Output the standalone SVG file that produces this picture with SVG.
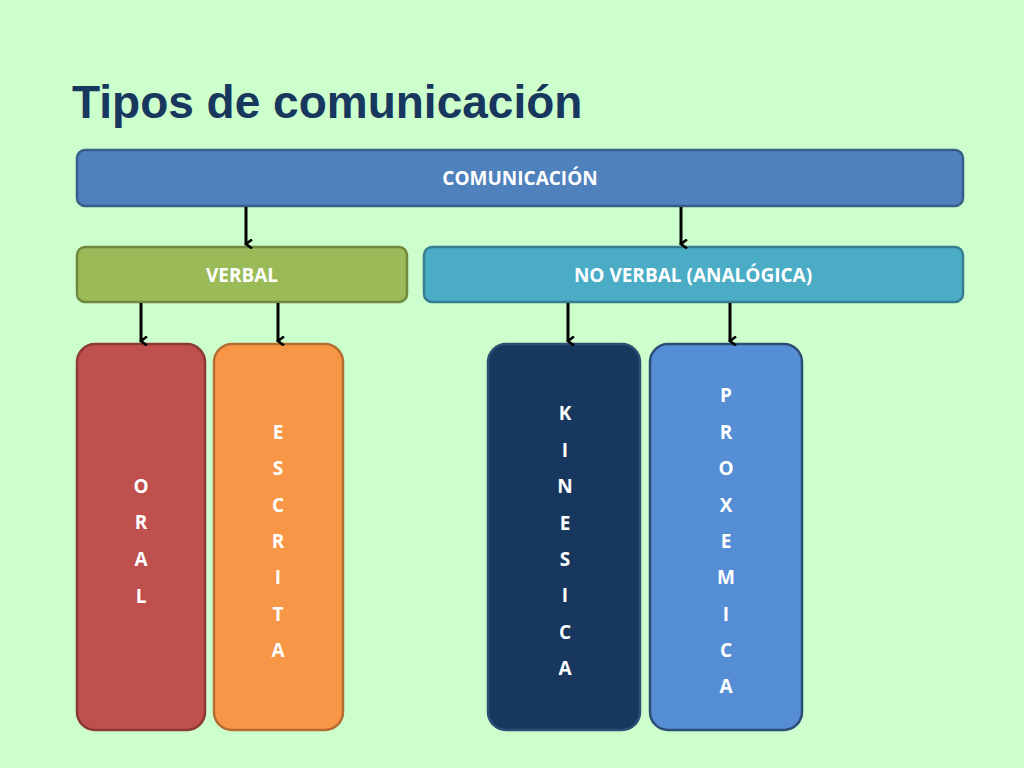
<svg xmlns="http://www.w3.org/2000/svg" width="1024" height="768" viewBox="0 0 1024 768">
<defs>
<marker id="ah" markerWidth="10" markerHeight="10" refX="5" refY="8" orient="auto" markerUnits="userSpaceOnUse" viewBox="0 0 10 10"><path d="M0.5,2 L5,8 L9.5,2" fill="none" stroke="#000" stroke-width="2.6"/></marker>
</defs>
<style>
.t{font-family:"Open Sans","Liberation Sans",sans-serif;font-weight:bold;font-size:19px;fill:#fff;text-anchor:middle}
.b{stroke-width:2.5}
.c line{stroke:#000;stroke-width:3;marker-end:url(#ah)}
</style>
<rect width="1024" height="768" fill="#CCFFCC"/>
<text x="72" y="118" font-family="Liberation Sans,Arial,sans-serif" font-weight="bold" font-size="46" fill="#17375E">Tipos de comunicación</text>
<g id="comunicacion"><rect class="b" x="77" y="150" width="886" height="56" rx="8" fill="#4F81BD" stroke="#385D8A"/><text class="t" x="520" y="185">COMUNICACIÓN</text></g>
<g id="verbal"><rect class="b" x="77" y="247" width="330" height="55" rx="8" fill="#9BBB59" stroke="#71893F"/><text class="t" x="242" y="282">VERBAL</text></g>
<g id="noverbal"><rect class="b" x="424" y="247" width="539" height="55" rx="8" fill="#4BACC6" stroke="#357D91"/><text class="t" x="693" y="282">NO VERBAL (ANALÓGICA)</text></g>
<g id="oral"><rect class="b" x="77" y="344" width="128" height="386" rx="18" fill="#C0504D" stroke="#8C3836"/>
<text class="t" x="141"><tspan x="141" y="493">O</tspan><tspan x="141" y="529">R</tspan><tspan x="141" y="566">A</tspan><tspan x="141" y="603">L</tspan></text></g>
<g id="escrita"><rect class="b" x="214" y="344" width="129" height="386" rx="18" fill="#F79646" stroke="#B66D31"/>
<text class="t"><tspan x="278" y="439">E</tspan><tspan x="278" y="475">S</tspan><tspan x="278" y="512">C</tspan><tspan x="278" y="548">R</tspan><tspan x="278" y="584">I</tspan><tspan x="278" y="621">T</tspan><tspan x="278" y="657">A</tspan></text></g>
<g id="kinesica"><rect class="b" x="488" y="344" width="152" height="386" rx="18" fill="#17375E" stroke="#2C4D75"/>
<text class="t"><tspan x="565" y="420">K</tspan><tspan x="565" y="457">I</tspan><tspan x="565" y="493">N</tspan><tspan x="565" y="530">E</tspan><tspan x="565" y="566">S</tspan><tspan x="565" y="602">I</tspan><tspan x="565" y="639">C</tspan><tspan x="565" y="675">A</tspan></text></g>
<g id="proxemica"><rect class="b" x="650" y="344" width="152" height="386" rx="18" fill="#558ED5" stroke="#2C4D75"/>
<text class="t"><tspan x="726" y="402">P</tspan><tspan x="726" y="439">R</tspan><tspan x="726" y="475">O</tspan><tspan x="726" y="512">X</tspan><tspan x="726" y="548">E</tspan><tspan x="726" y="584">M</tspan><tspan x="726" y="621">I</tspan><tspan x="726" y="657">C</tspan><tspan x="726" y="693">A</tspan></text></g>
<g class="c" id="connectors">
<line x1="246" y1="207" x2="246" y2="244"/>
<line x1="681" y1="207" x2="681" y2="244"/>
<line x1="141" y1="303" x2="141" y2="341"/>
<line x1="278" y1="303" x2="278" y2="341"/>
<line x1="568" y1="303" x2="568" y2="341"/>
<line x1="730" y1="303" x2="730" y2="341"/>
</g>
</svg>
